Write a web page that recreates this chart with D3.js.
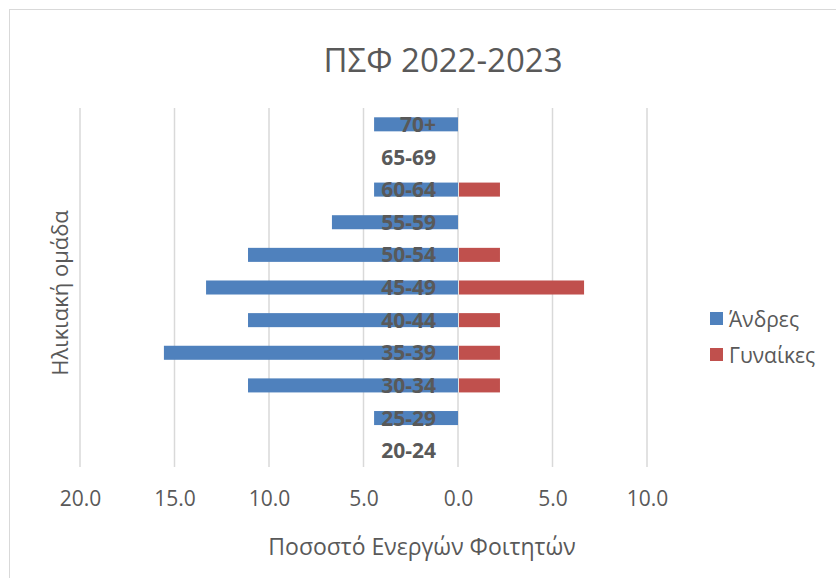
<!DOCTYPE html>
<html>
<head>
<meta charset="utf-8">
<script src="https://cdn.jsdelivr.net/npm/d3@7"></script>
<style>
  body { margin: 0; background: #fff; }
  text { font-family: "Open Sans", "Noto Sans", sans-serif; fill: #595959; }
</style>
</head>
<body>
<svg id="pyramid" width="836" height="578"></svg>
<script>
// age groups, bottom to top
var ageGroups = ["20-24", "25-29", "30-34", "35-39", "40-44", "45-49", "50-54", "55-59", "60-64", "65-69", "70+"];
var men   = [0, 4.44, 11.11, 15.56, 11.11, 13.33, 11.11, 6.67, 4.44, 0, 4.44];
var women = [0, 0, 2.22, 2.22, 2.22, 6.67, 2.22, 0, 2.22, 0, 0];
var xTicks = [-20, -15, -10, -5, 0, 5, 10];
var seriesNames = ["Άνδρες", "Γυναίκες"];

var svg = d3.select("svg#pyramid");
var colors = ["#4f81bd", "#c0504d"];

svg.append("rect")
    .attr("x", 9.5).attr("y", 9.5)
    .attr("width", 840).attr("height", 590)
    .attr("fill", "none")
    .attr("stroke", "#d9d9d9");

var x = d3.scaleLinear()
    .domain([-20, 10])
    .range([80, 647]);

var y = d3.scaleBand()
    .domain(ageGroups.slice().reverse())
    .range([108, 467])
    .paddingInner(0.57)
    .paddingOuter(0.285);

// gridlines
svg.append("g").selectAll("line")
    .data(xTicks)
    .enter().append("line")
      .attr("x1", function(d) { return x(d); })
      .attr("x2", function(d) { return x(d); })
      .attr("y1", 108).attr("y2", 467)
      .attr("stroke", "#d9d9d9")
      .attr("stroke-width", 1.5);

// x axis labels
var xAxis = d3.axisBottom(x)
    .tickValues(xTicks)
    .tickSize(0)
    .tickPadding(0)
    .tickFormat(function(d) { return d3.format(".1f")(Math.abs(d)); });

var gx = svg.append("g")
    .attr("transform", "translate(0,491)")
    .call(xAxis);
gx.select(".domain").remove();
gx.selectAll("text")
    .attr("fill", "#595959")
    .style("font-size", "21px");

var rows = ageGroups.map(function(a, i) { return {age: a, men: men[i], women: women[i]}; });

svg.append("g").selectAll("rect")
    .data(rows)
    .enter().append("rect")
      .attr("x", function(d) { return x(-d.men); })
      .attr("y", function(d) { return y(d.age); })
      .attr("width", function(d) { return x(0) - x(-d.men); })
      .attr("height", y.bandwidth())
      .attr("fill", colors[0]);

svg.append("g").selectAll("rect")
    .data(rows)
    .enter().append("rect")
      .attr("x", x(0) + 1)
      .attr("y", function(d) { return y(d.age); })
      .attr("width", function(d) { return Math.max(0, x(d.women) - x(0) - 1); })
      .attr("height", y.bandwidth())
      .attr("fill", colors[1]);

// category labels sit on the bars
svg.append("g").selectAll("text")
    .data(ageGroups)
    .enter().append("text")
      .attr("x", 436)
      .attr("y", function(d) { return y(d) + y.bandwidth() / 2; })
      .attr("dy", "0.36em")
      .attr("text-anchor", "end")
      .style("font-size", "21px")
      .style("font-weight", "bold")
      .text(function(d) { return d; });

// titles
svg.append("text")
    .attr("x", 443).attr("y", 72)
    .attr("text-anchor", "middle")
    .style("font-size", "33px")
    .text("ΠΣΦ 2022-2023");

svg.append("text")
    .attr("x", 422).attr("y", 555)
    .attr("text-anchor", "middle")
    .style("font-size", "23px")
    .text("Ποσοστό Ενεργών Φοιτητών");

svg.append("text")
    .attr("transform", "translate(68,293) rotate(-90)")
    .attr("text-anchor", "middle")
    .style("font-size", "22px")
    .text("Ηλικιακή ομάδα");

// legend
var legend = svg.append("g").selectAll("g")
    .data(seriesNames)
    .enter().append("g")
      .attr("transform", function(d, i) { return "translate(710," + (312 + i * 36) + ")"; });

legend.append("rect")
    .attr("width", 13).attr("height", 13)
    .attr("fill", function(d, i) { return colors[i]; });

legend.append("text")
    .attr("x", 19).attr("y", 7)
    .attr("dy", "0.36em")
    .style("font-size", "21px")
    .text(function(d) { return d; });
</script>
</body>
</html>
